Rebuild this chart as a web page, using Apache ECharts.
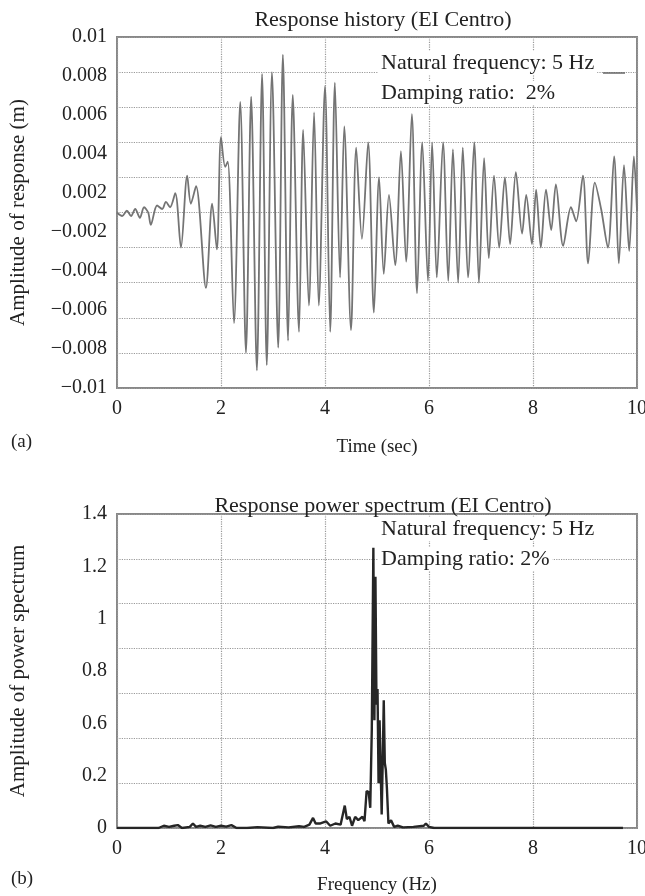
<!DOCTYPE html>
<html lang="en">
<head>
<meta charset="UTF-8" />
<script src="https://cdn.jsdelivr.net/npm/echarts@6/dist/echarts.min.js"></script>
<style>
  html, body { margin: 0; padding: 0; background: #fff; }
  #main { width: 645px; height: 896px; }
</style>
</head>
<body>
<div id="main"></div>
<script>
// (a) response history: time (sec) and displacement (m), read at peaks/troughs
var histTime = [0, 0.10, 0.19, 0.27, 0.35, 0.44, 0.52, 0.60, 0.65, 0.77, 0.87, 0.94, 1.02, 1.12, 1.23, 1.35, 1.42, 1.52,
  1.71, 1.83, 1.92, 2.00, 2.08, 2.13, 2.25, 2.37, 2.48, 2.58, 2.69, 2.79, 2.88, 2.98, 3.10, 3.19, 3.29, 3.38, 3.50,
  3.58, 3.69, 3.79, 3.88, 4.00, 4.10, 4.19, 4.29, 4.37, 4.50, 4.60, 4.71, 4.83, 4.94, 5.04, 5.13, 5.23, 5.35, 5.46,
  5.56, 5.67, 5.77, 5.87, 5.98, 6.06, 6.15, 6.27, 6.37, 6.46, 6.56, 6.65, 6.75, 6.87, 6.96, 7.06, 7.15, 7.25, 7.35,
  7.46, 7.56, 7.67, 7.79, 7.87, 7.98, 8.06, 8.15, 8.25, 8.35, 8.44, 8.58, 8.73, 8.83, 8.96, 9.06, 9.19, 9.31, 9.44,
  9.56, 9.65, 9.75, 9.85, 9.94, 10.0];
var histDisp = [0, -0.0002, 0.0001, -0.0002, 0.0002, -0.0003, 0.0003, 0, -0.0007, 0.0004, 0.0002, 0.0006, 0.0003, 0.0011, -0.002, 0.0021, 0.0005, 0.0015,
  -0.0043, 0.0005, -0.0021, 0.0043, 0.0026, 0.0029, -0.0063, 0.0063, -0.008, 0.0066, -0.009, 0.0079, -0.0087, 0.008, -0.0077, 0.009, -0.0073, 0.0067, -0.0068,
  0.0047, -0.0053, 0.0057, -0.0053, 0.0072, -0.0068, 0.0074, -0.0037, 0.0049, -0.0067, 0.0037, -0.0015, 0.004, -0.0057, 0.002, -0.0035, 0.001, -0.003, 0.0035,
  -0.0028, 0.0056, -0.0046, 0.004, -0.0039, 0.004, -0.0037, 0.004, -0.0039, 0.0036, -0.004, 0.0037, -0.0037, 0.004, -0.004, 0.0031, -0.0026, 0.0021, -0.002,
  0.002, -0.0018, 0.0023, -0.0012, 0.001, -0.0018, 0.0013, -0.002, 0.0013, -0.001, 0.0016, -0.0019, 0.0003, -0.0005, 0.0021, -0.0029, 0.0017, 0.0002, -0.002,
  0.0032, -0.0029, 0.0027, -0.0022, 0.0032, 0.0001];
var histTicks = ['\u22120.01', '\u22120.008', '\u22120.006', '\u22120.004', '\u22120.002', '0.002', '0.004', '0.006', '0.008', '0.01'];

// (b) response power spectrum: frequency (Hz) and amplitude
var specFreq = [0, 0.8, 0.9, 1.0, 1.1, 1.17, 1.25, 1.4, 1.46, 1.52, 1.6, 1.7, 1.8, 1.9, 2.0, 2.1, 2.2, 2.3, 2.5, 2.7,
  3.0, 3.1, 3.3, 3.5, 3.6, 3.7, 3.77, 3.82, 3.9, 4.02, 4.1, 4.2, 4.3, 4.38, 4.42, 4.47, 4.52, 4.58, 4.64, 4.72,
  4.76, 4.80, 4.84, 4.87, 4.90, 4.93, 4.95, 4.97, 4.99, 5.01, 5.03, 5.05, 5.07, 5.09, 5.11, 5.13, 5.15, 5.17, 5.19, 5.22,
  5.27, 5.33, 5.40, 5.50, 5.70, 5.90, 5.94, 6.00, 6.10, 9.73];
var specAmp = [0, 0, 0.01, 0.005, 0.01, 0.013, 0, 0.005, 0.02, 0.005, 0.01, 0.005, 0.012, 0.005, 0.01, 0.006, 0.013, 0, 0, 0.004,
  0, 0.006, 0.003, 0.008, 0.005, 0.015, 0.045, 0.02, 0.02, 0.03, 0.01, 0.02, 0.015, 0.1, 0.04, 0.05, 0.01, 0.05, 0.035, 0.05,
  0.03, 0.165, 0.16, 0.09, 0.44, 1.25, 0.48, 1.12, 0.55, 0.62, 0.2, 0.48, 0.27, 0.06, 0.3, 0.57, 0.29, 0.26, 0.18, 0.02,
  0.035, 0.005, 0.01, 0.003, 0.005, 0.01, 0.02, 0.005, 0, 0];
var specTicks = ['0', '0.2', '0.6', '0.8', '1', '1.2', '1.4'];

var FONT = 'Liberation Serif';
var nameStyle = { fontFamily: FONT, fontSize: 19, color: '#222' };
var yNameStyle = { fontFamily: FONT, fontSize: 21, color: '#222' };
var tickStyle = { fontFamily: FONT, fontSize: 20, color: '#222' };
var dotted = { type: 'dotted', color: '#999', width: 1.2 };

function pairs(xs, ys) {
  return xs.map(function (x, i) { return [x, ys[i]]; });
}

var chart = echarts.init(document.getElementById('main'));

chart.setOption({
  animation: false,
  title: [
    { text: 'Response history (EI Centro)', left: 378, top: 4, textAlign: 'center',
      textStyle: { fontFamily: FONT, fontSize: 22, fontWeight: 'normal', color: '#222' } },
    { text: 'Response power spectrum (EI Centro)', left: 378, top: 490, textAlign: 'center',
      textStyle: { fontFamily: FONT, fontSize: 22, fontWeight: 'normal', color: '#222' } }
  ],
  grid: [
    { left: 117, right: 8, top: 37, height: 351, show: true, borderColor: '#888', borderWidth: 2,
      outerBoundsMode: 'none' },
    { left: 117, right: 8, top: 514, height: 314, show: true, borderColor: '#888', borderWidth: 2,
      outerBoundsMode: 'none' }
  ],
  xAxis: [
    { type: 'value', gridIndex: 0, min: 0, max: 10, interval: 2,
      name: 'Time (sec)', nameLocation: 'middle', nameGap: 50, nameTextStyle: nameStyle,
      axisLine: { show: false }, axisTick: { show: false },
      axisLabel: Object.assign({ margin: 11 }, tickStyle),
      splitLine: { lineStyle: dotted } },
    { type: 'value', gridIndex: 1, min: 0, max: 10, interval: 2,
      name: 'Frequency (Hz)', nameLocation: 'middle', nameGap: 48, nameTextStyle: nameStyle,
      axisLine: { show: false }, axisTick: { show: false },
      axisLabel: Object.assign({ margin: 11 }, tickStyle),
      splitLine: { lineStyle: dotted } }
  ],
  yAxis: [
    { type: 'value', gridIndex: 0, min: -0.01, max: 0.01, interval: 0.002,
      axisLine: { show: false }, axisTick: { show: false }, axisLabel: { show: false },
      splitLine: { lineStyle: dotted } },
    { type: 'category', gridIndex: 0, data: histTicks, boundaryGap: false, position: 'left',
      name: 'Amplitude of response (m)', nameLocation: 'middle', nameGap: 88, nameTextStyle: yNameStyle,
      axisLine: { show: false }, axisTick: { show: false }, splitLine: { show: false },
      axisLabel: Object.assign({ interval: 0, margin: 10 }, tickStyle) },
    { type: 'value', gridIndex: 1, min: 0, max: 1.4, interval: 0.2,
      axisLine: { show: false }, axisTick: { show: false }, axisLabel: { show: false },
      splitLine: { lineStyle: dotted } },
    { type: 'category', gridIndex: 1, data: specTicks, boundaryGap: false, position: 'left',
      name: 'Amplitude of power spectrum', nameLocation: 'middle', nameGap: 88, nameTextStyle: yNameStyle,
      axisLine: { show: false }, axisTick: { show: false }, splitLine: { show: false },
      axisLabel: Object.assign({ interval: 0, margin: 10 }, tickStyle) }
  ],
  series: [
    { type: 'line', xAxisIndex: 0, yAxisIndex: 0, data: pairs(histTime, histDisp),
      showSymbol: false, smooth: 0.3, lineStyle: { color: '#747474', width: 1.8 } },
    { type: 'line', xAxisIndex: 1, yAxisIndex: 2, data: pairs(specFreq, specAmp),
      showSymbol: false, lineStyle: { color: '#262626', width: 2.4 } }
  ],
  graphic: [
    { type: 'text', left: 378, top: 51, z: 100,
      style: { text: 'Natural frequency: 5 Hz', fontFamily: FONT, fontSize: 22, fill: '#222',
        backgroundColor: '#fff', padding: [1, 3] } },
    { type: 'text', left: 378, top: 81, z: 100,
      style: { text: 'Damping ratio:  2%', fontFamily: FONT, fontSize: 22, fill: '#222',
        backgroundColor: '#fff', padding: [1, 3] } },
    { type: 'line', z: 100, shape: { x1: 603, y1: 73, x2: 625, y2: 73 },
      style: { stroke: '#666', lineWidth: 1.5 } },
    { type: 'text', left: 378, top: 517, z: 100,
      style: { text: 'Natural frequency: 5 Hz', fontFamily: FONT, fontSize: 22, fill: '#222',
        backgroundColor: '#fff', padding: [1, 3] } },
    { type: 'text', left: 378, top: 547, z: 100,
      style: { text: 'Damping ratio: 2%', fontFamily: FONT, fontSize: 22, fill: '#222',
        backgroundColor: '#fff', padding: [1, 3] } },
    { type: 'text', left: 11, top: 433, style: { text: '(a)', fontFamily: FONT, fontSize: 19, fill: '#222' } },
    { type: 'text', left: 11, top: 870, style: { text: '(b)', fontFamily: FONT, fontSize: 19, fill: '#222' } }
  ]
});
</script>
</body>
</html>
